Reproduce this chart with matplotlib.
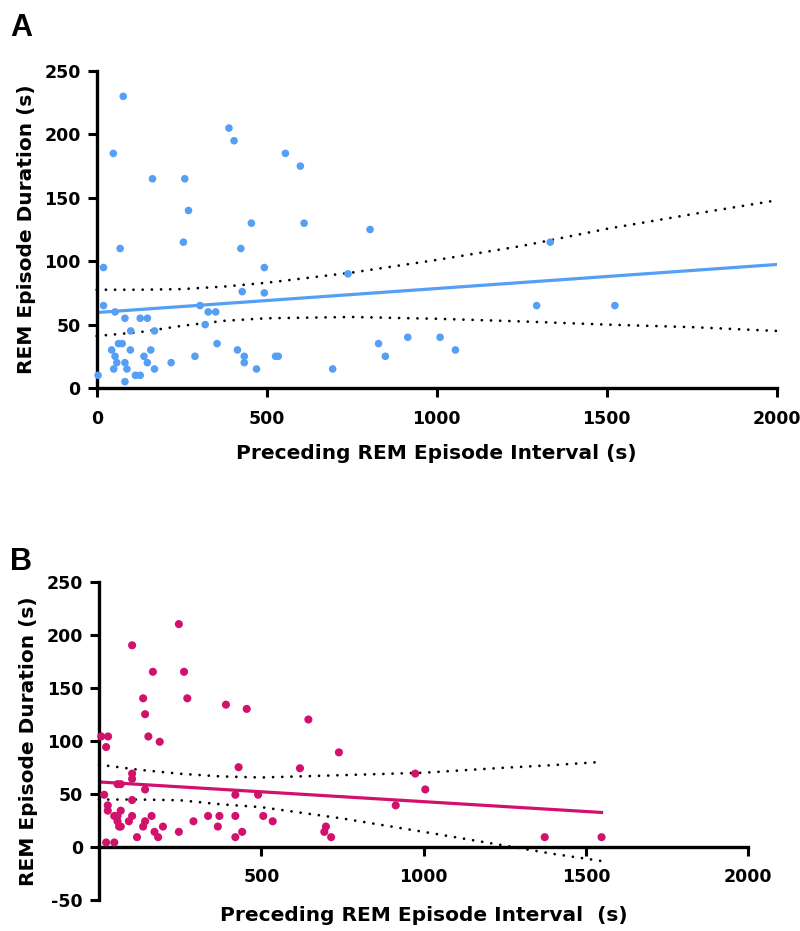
import numpy as np
import matplotlib
matplotlib.use("Agg")
import matplotlib.pyplot as plt
from matplotlib import font_manager

# ---------------- data ----------------
# Panel A
a_interval = [78, 49, 389, 404, 555, 599, 164, 259, 270, 455, 610, 804, 69, 255, 424,
              20, 493, 739, 428, 493, 20, 54, 304, 328, 350, 83, 128, 149, 319, 100,
              170, 64, 75, 354, 829, 44, 99, 159, 414, 54, 139, 289, 434, 526, 534,
              849, 59, 83, 149, 219, 434, 50, 89, 170, 470, 694, 4, 114, 128, 83,
              1334, 1294, 1524, 915, 1010, 1055]
a_duration = [230, 185, 205, 195, 185, 175, 165, 165, 140, 130, 130, 125, 110, 115, 110,
              95, 95, 90, 76, 75, 65, 60, 65, 60, 60, 55, 55, 55, 50, 45,
              45, 35, 35, 35, 35, 30, 30, 30, 30, 25, 25, 25, 25, 25, 25,
              25, 20, 20, 20, 20, 20, 15, 15, 15, 15, 15, 10, 10, 10, 5,
              115, 65, 65, 40, 40, 30]
# fitted line and 95% confidence band
a_fit_x = [0, 2000]
a_fit_y = [59.5, 97.4]
a_band_x = [0, 125, 250, 375, 500, 750, 1000, 1250, 1500, 1750, 2000]
a_band_hi = [77.5, 77.5, 78.0, 80.0, 83.0, 91.0, 101.0, 112.0, 125.5, 137.0, 148.0]
a_band_lo = [41.0, 44.0, 49.0, 53.0, 55.0, 56.0, 54.6, 52.5, 50.0, 48.0, 45.0]

# Panel B
b_interval = [246, 102, 166, 262, 136, 272, 391, 455, 142, 645, 7, 28, 152, 22, 187,
              739, 430, 619, 102, 102, 57, 67, 142, 16, 420, 490, 102, 27, 27, 67,
              47, 57, 102, 162, 336, 371, 420, 506, 57, 92, 142, 291, 535, 62, 67,
              136, 197, 366, 699, 171, 246, 441, 694, 117, 182, 420, 715, 22, 47,
              974, 1005, 914, 1373, 1548]
b_duration = [210, 190, 165, 165, 140, 140, 134, 130, 125, 120, 104, 104, 104, 94, 99,
              89, 75, 74, 69, 64, 59, 59, 54, 49, 49, 49, 44, 39, 34, 34,
              29, 29, 29, 29, 29, 29, 29, 29, 24, 24, 24, 24, 24, 19, 19,
              19, 19, 19, 19, 14, 14, 14, 14, 9, 9, 9, 9, 4, 4,
              69, 54, 39, 9, 9]
b_fit_x = [0, 1548]
b_fit_y = [61.1, 32.3]
b_band_x = [0, 125, 250, 375, 500, 750, 1000, 1250, 1400, 1548]
b_band_hi = [77.4, 72.5, 68.8, 66.3, 65.3, 67.5, 69.8, 74.5, 77.0, 80.0]
b_band_lo = [44.5, 44.5, 43.8, 40.0, 37.3, 26.6, 14.0, 1.0, -6.8, -13.5]

x_ticks_a = [0, 500, 1000, 1500, 2000]
x_ticks_b = [500, 1000, 1500, 2000]
y_ticks_a = [0, 50, 100, 150, 200, 250]
y_ticks_b = [-50, 0, 50, 100, 150, 200, 250]

x_label_a = "Preceding REM Episode Interval (s)"
x_label_b = "Preceding REM Episode Interval  (s)"
y_label = "REM Episode Duration (s)"

BLUE = "#559ff5"
MAGENTA = "#d1116b"

# ---------------- fonts ----------------
avail = {f.name for f in font_manager.fontManager.ttflist}
narrow = "Liberation Sans Narrow" if "Liberation Sans Narrow" in avail else "Liberation Sans"
plt.rcParams['font.family'] = ['DejaVu Sans']
plt.rcParams['font.weight'] = 'bold'
plt.rcParams['axes.unicode_minus'] = False

W, H = 800, 931
fig = plt.figure(figsize=(W / 100, H / 100), dpi=100)


def make_axes(left, right, top, bottom):
    return fig.add_axes([left / W, 1 - bottom / H, (right - left) / W, (bottom - top) / H])


def style(ax):
    for side in ['top', 'right']:
        ax.spines[side].set_visible(False)
    for side in ['left', 'bottom']:
        ax.spines[side].set_linewidth(2.4)
        ax.spines[side].set_color('black')
    ax.tick_params(axis='both', direction='out', length=6.5, width=2.2, colors='black',
                   labelsize=12.5)
    for lab in ax.get_xticklabels() + ax.get_yticklabels():
        lab.set_fontweight('bold')


dot_style = dict(color='black', linestyle=(0, (0.01, 3.3)), linewidth=2.0,
                 dash_capstyle='round', clip_on=False)

# ---------------- Panel A ----------------
axA = make_axes(96.7, 776.7, 71, 388)
axA.set_xlim(0, 2000)
axA.set_ylim(0, 250)
axA.scatter(a_interval, a_duration, s=30, color=BLUE, edgecolors='none', zorder=3,
            clip_on=False)
axA.plot(a_fit_x, a_fit_y, color=BLUE, linewidth=2.3, zorder=2)
axA.plot(a_band_x, a_band_lo, **dot_style)
axA.plot(a_band_x, a_band_hi, **dot_style)
axA.set_xticks(x_ticks_a)
axA.set_yticks(y_ticks_a)
style(axA)
axA.tick_params(axis='x', pad=9)
axA.tick_params(axis='y', pad=5)
axA.set_xlabel(x_label_a, fontsize=14.5, fontweight='bold', labelpad=12)
axA.set_ylabel(y_label, fontsize=14.5, fontweight='bold', labelpad=6)

# ---------------- Panel B ----------------
axB = make_axes(99, 748.3, 581.7, 899.7)
axB.set_xlim(0, 2000)
axB.set_ylim(-50, 250)
axB.scatter(b_interval, b_duration, s=34, color=MAGENTA, edgecolors='none', zorder=3,
            clip_on=False)
axB.plot(b_fit_x, b_fit_y, color=MAGENTA, linewidth=2.3, zorder=2)
axB.plot(b_band_x, b_band_lo, **dot_style)
axB.plot(b_band_x, b_band_hi, **dot_style)
axB.spines['bottom'].set_position(('data', 0))
axB.set_xticks(x_ticks_b)
axB.set_yticks(y_ticks_b)
style(axB)
axB.tick_params(axis='x', pad=9)
axB.tick_params(axis='y', pad=5)
axB.set_xlabel(x_label_b, fontsize=14.5, fontweight='bold', labelpad=14)
axB.set_ylabel(y_label, fontsize=14.5, fontweight='bold', labelpad=6)

# panel letters
fig.text(10 / W, 1 - 36 / H, "A", fontsize=22, fontweight='bold', family=narrow)
fig.text(10 / W, 1 - 570 / H, "B", fontsize=22, fontweight='bold', family=narrow)

fig.savefig("out.png", dpi=100, facecolor='white')
